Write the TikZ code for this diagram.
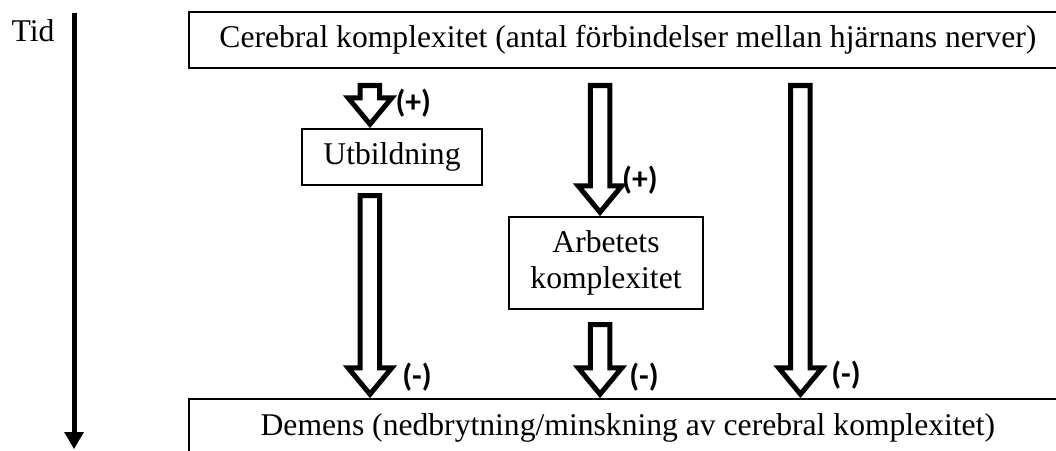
\documentclass[tikz,border=0pt]{standalone}
\usepackage{fontspec}
\setmainfont{Liberation Serif}
\newfontfamily\etikettfont{Carlito}
\usetikzlibrary{arrows.meta,calc}

% blockpil: #1 start, #2 spets
\newcommand{\blockpil}[2]{%
  \draw[pil] ($(#1)+(-0.13,0)$) -- ($(#2)+(-0.13,0.4)$) -- ($(#2)+(-0.29,0.4)$)
    -- ($(#2)+(0,0.05)$) -- ($(#2)+(0.29,0.4)$) -- ($(#2)+(0.13,0.4)$)
    -- ($(#1)+(0.13,0)$) -- cycle;}

\begin{document}
\begin{tikzpicture}[
    ruta/.style={draw, line width=0.8pt, inner sep=0pt, font=\fontsize{12}{13.5}\selectfont},
    pil/.style={draw, fill=white, line width=1.9pt, line join=miter},
    etikett/.style={inner sep=0pt, font=\etikettfont\bfseries\fontsize{12}{14}\selectfont},
    tidpil/.style={-{Triangle[width=7pt,length=6.5pt]}, line width=1.9pt}
  ]
            \useasboundingbox (0,0) rectangle (14.08,6);

            % tidsaxel
            \node[font=\fontsize{12}{13.5}\selectfont] (tid) at (0.44,5.587) {Tid};
            \coordinate (t0) at (0.987,5.827);
            \coordinate (t1) at (0.987,0.01);
            \draw[tidpil] (t0) -- (t1);

            % rutor
            \node[ruta, minimum width=11.7cm, minimum height=0.747cm, anchor=west] (cer) at (2.507,5.467)
                {Cerebral komplexitet (antal förbindelser mellan hjärnans nerver)};
            \node[ruta, minimum width=2.4cm, minimum height=0.747cm] (utb) at (5.227,3.907) {Utbildning};
            \node[ruta, minimum width=2.587cm, minimum height=1.227cm, align=center] (arb) at (8.08,2.493)
                {Arbetets\\komplexitet};
            \node[ruta, minimum width=11.7cm, minimum height=0.776cm, anchor=west] (dem) at (2.507,0.292)
                {Demens (nedbrytning/minskning av cerebral komplexitet)};

            % pilar
            \coordinate (a1) at (4.933,4.86);
            \coordinate (a2) at (8.0,4.86);
            \coordinate (a3) at (10.673,4.86);
            \coordinate (a4) at (4.933,3.393);
            \coordinate (a5) at (8.0,1.673);

            \blockpil{a1}{a1 |- utb.north}
            \blockpil{a2}{a2 |- arb.north}
            \blockpil{a3}{a3 |- dem.north}
            \blockpil{a4}{a4 |- dem.north}
            \blockpil{a5}{a5 |- dem.north}

            \node[etikett] (p1) at (5.51,4.627) {(+)};
            \node[etikett] (p2) at (8.533,3.6) {(+)};
            \node[etikett] (m1) at (5.56,0.973) {(-)};
            \node[etikett] (m2) at (8.587,0.973) {(-)};
            \node[etikett] (m3) at (11.28,1.0) {(-)};
\end{tikzpicture}
\end{document}
